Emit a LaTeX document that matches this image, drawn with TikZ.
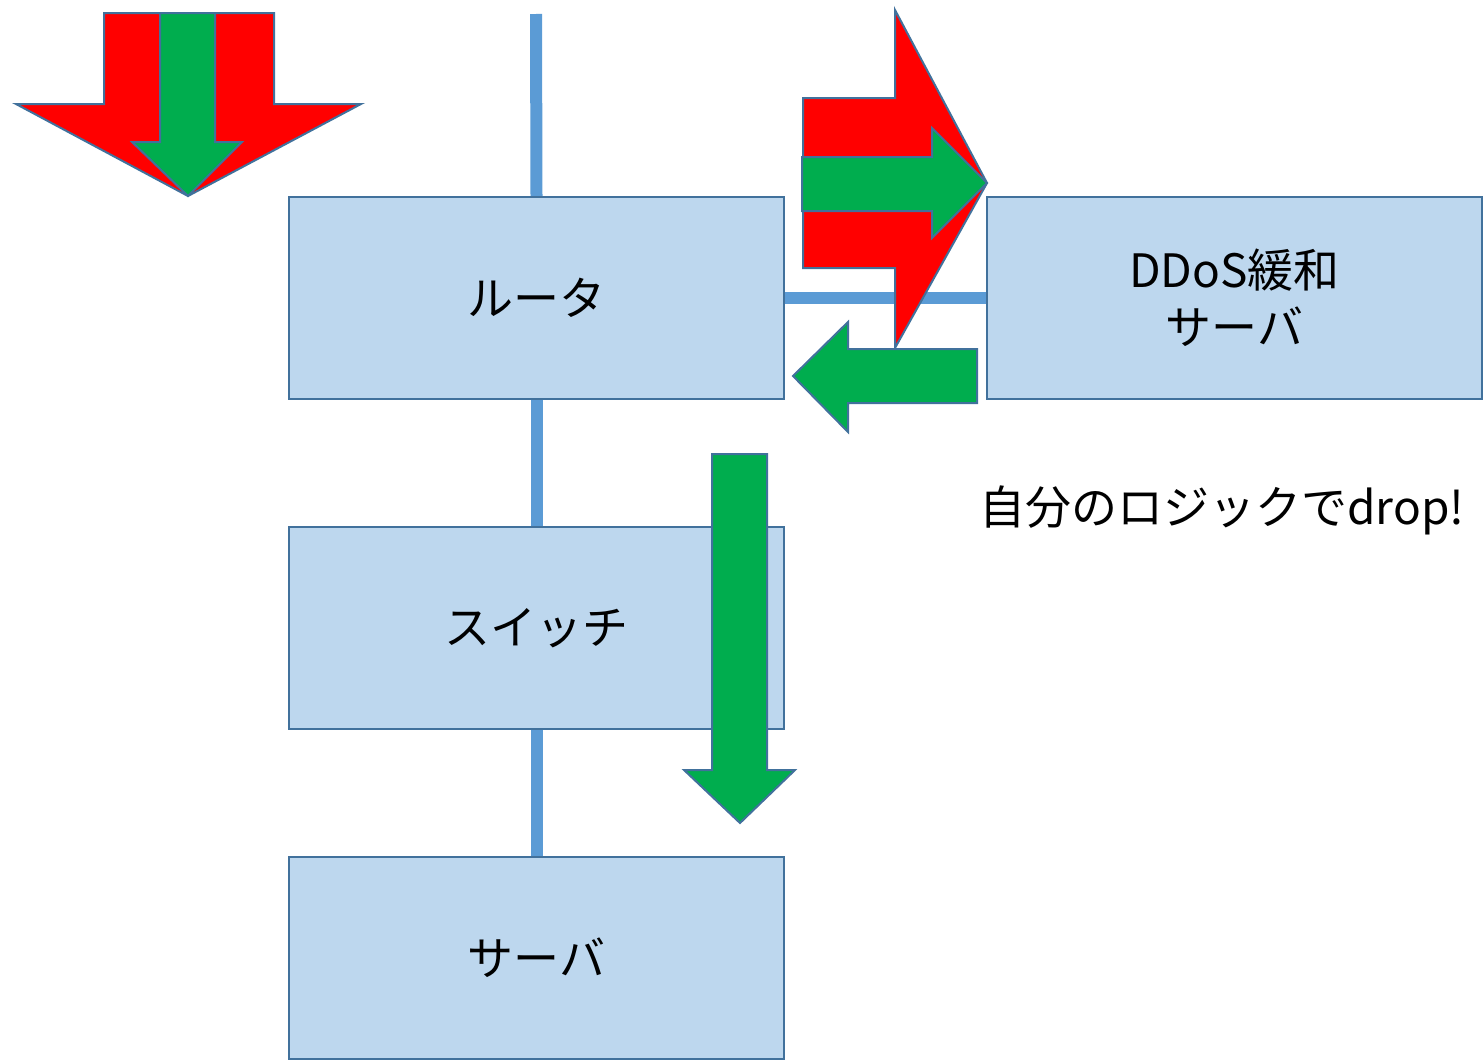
\documentclass[tikz,border=0pt]{standalone}
\usepackage{fontspec}
\setmainfont{Noto Sans CJK JP}
\usetikzlibrary{backgrounds}
\definecolor{boxfill}{HTML}{BDD7EE}
\definecolor{edgeblue}{HTML}{41719C}
\definecolor{linkblue}{HTML}{5B9BD5}
\definecolor{arrred}{HTML}{FF0000}
\definecolor{arrgreen}{HTML}{00AD4E}
\begin{document}
\begin{tikzpicture}[x=0.5pt,y=-0.5pt,
  devbox/.style={draw=edgeblue,fill=boxfill,line width=1pt,minimum width=247.5pt,minimum height=101pt,inner sep=0pt,font=\fontsize{23}{28.5}\selectfont,align=center},
  link/.style={draw=linkblue,line width=6pt},
  redarr/.style={fill=arrred,draw=edgeblue,line width=1pt,line join=miter},
  greenarr/.style={fill=arrgreen,draw=edgeblue,line width=1pt,line join=miter}]
\useasboundingbox (0,0) rectangle (1484,1060);
% devices
\coordinate (top) at (536,14);
\node[devbox] (router) at (536.5,298) {ルータ};
\node[devbox] (switch) at (536.5,628) {スイッチ};
\node[devbox] (server) at (536.5,958) {サーバ};
\node[devbox] (ddos) at (1234.5,298) {DDoS緩和\\サーバ};
% connectors behind the boxes
\begin{scope}[on background layer]
\draw[link] (top) -- (router.north);
\draw[link] (router.south) -- (switch.north);
\draw[link] (switch.south) -- (server.north);
\draw[link] (router.east) -- (ddos.west);
\end{scope}
% top-left down arrows
\draw[redarr] (104,13) -- (274,13) -- (274,104) -- (361,104) -- (188,196) -- (16,104) -- (104,104) -- cycle;
\draw[greenarr] (160,13) -- (215,13) -- (215,142) -- (242,142) -- (188,196) -- (132,142) -- (160,142) -- cycle;
% right arrows toward DDoS server
\draw[redarr] (803,98) -- (895,98) -- (895,10) -- (987,183) -- (895,348) -- (895,268) -- (803,268) -- cycle;
\draw[greenarr] (802,157) -- (932,157) -- (932,128) -- (987,183) -- (932,238) -- (932,211) -- (802,211) -- cycle;
% back arrow
\draw[greenarr] (977,349) -- (848,349) -- (848,322) -- (793,376) -- (848,432) -- (848,403) -- (977,403) -- cycle;
% down arrow to server
\draw[greenarr] (712,454) -- (767,454) -- (767,770) -- (795,770) -- (740,823) -- (684,770) -- (712,770) -- cycle;
% label
\node[font=\fontsize{23}{28.5}\selectfont,inner sep=0pt] (droplabel) at (1222,510) {自分のロジックでdrop!};
\end{tikzpicture}
\end{document}
